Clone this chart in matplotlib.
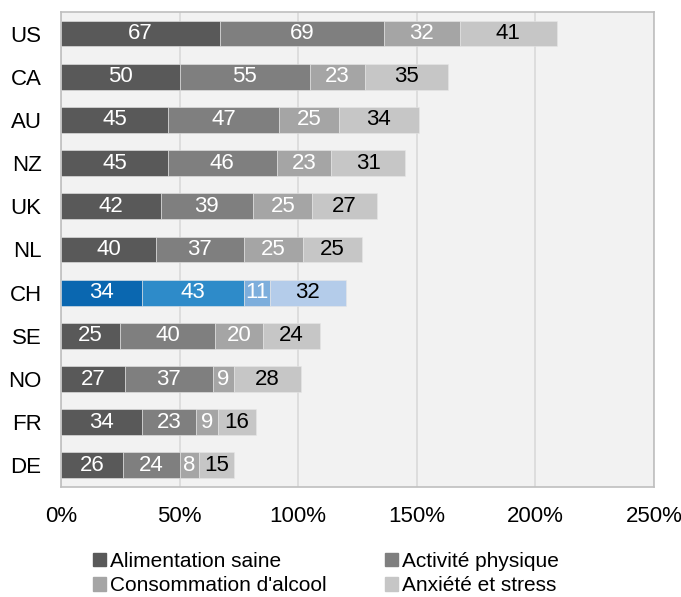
import numpy as np
import matplotlib.pyplot as plt

plt.rcParams['font.family'] = ['Liberation Sans', 'DejaVu Sans']

countries = ['US', 'CA', 'AU', 'NZ', 'UK', 'NL', 'CH', 'SE', 'NO', 'FR', 'DE']
alimentation = [67, 50, 45, 45, 42, 40, 34, 25, 27, 34, 26]
activite = [69, 55, 47, 46, 39, 37, 43, 40, 37, 23, 24]
alcool = [32, 23, 25, 23, 25, 25, 11, 20, 9, 9, 8]
anxiete = [41, 35, 34, 31, 27, 25, 32, 24, 28, 16, 15]
series_names = ['Alimentation saine', 'Activité physique',
                "Consommation d'alcool", 'Anxiété et stress']

gray_colors = ['#595959', '#7f7f7f', '#a5a5a5', '#c6c6c6']
ch_colors = ['#0a67b0', '#2e8bc9', '#7daedc', '#b4ccea']
text_colors = ['white', 'white', 'white', 'black']

fig, ax = plt.subplots(figsize=(6.81, 5.97), dpi=100)
fig.subplots_adjust(left=0.0896, right=0.9604, top=0.98, bottom=0.1843)
ax.set_facecolor('#f2f2f2')

series = [alimentation, activite, alcool, anxiete]
y = np.arange(len(countries))
left = np.zeros(len(countries))
for k, vals in enumerate(series):
    vals = np.array(vals, dtype=float)
    colors = [ch_colors[k] if c == 'CH' else gray_colors[k] for c in countries]
    ax.barh(y, vals, left=left, height=0.6, color=colors, edgecolor='#e6e6e6',
            linewidth=0.4, label=series_names[k], zorder=3)
    for yi, (l, v) in enumerate(zip(left, vals)):
        ax.text(l + v / 2, yi, f'{int(v)}', ha='center', va='center',
                color=text_colors[k], fontsize=16, zorder=4)
    left += vals

ax.set_ylim(len(countries) - 0.5, -0.5)
ax.set_yticks(y)
ax.set_yticklabels(countries)
ax.set_xlim(0, 250)
ax.set_xticks([0, 50, 100, 150, 200, 250])
ax.set_xticklabels(['0%', '50%', '100%', '150%', '200%', '250%'])
ax.tick_params(axis='both', length=0, labelsize=16)
ax.tick_params(axis='x', pad=14)
ax.tick_params(axis='y', pad=14)
ax.grid(axis='x', color='#d9d9d9', linewidth=1.2, zorder=0)
for s in ax.spines.values():
    s.set_color('#bfbfbf')
    s.set_linewidth(1.2)

# legend: matplotlib fills columns first, so reorder to get row-wise layout
handles = [plt.Rectangle((0, 0), 1, 1, color=c) for c in gray_colors]
order = [0, 2, 1, 3]
fig.legend([handles[i] for i in order], [series_names[i] for i in order],
           loc='upper left', bbox_to_anchor=(0.125, 0.089),
           ncol=2, frameon=False, fontsize=15, handlelength=0.6, handleheight=0.6,
           handletextpad=0.2, columnspacing=2.8, labelspacing=0.25, borderaxespad=0)

fig.savefig('out.png', dpi=100)
